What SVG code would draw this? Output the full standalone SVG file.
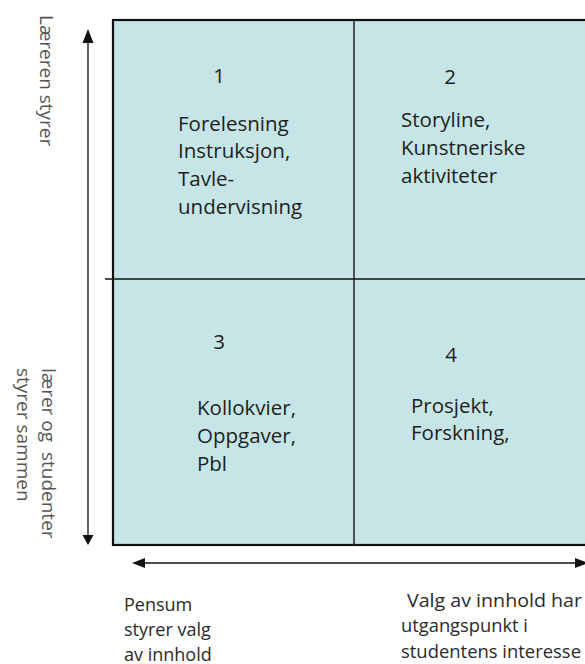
<svg xmlns="http://www.w3.org/2000/svg" width="585" height="664" viewBox="0 0 585 664">
  <style>
    .cell { fill: #c5e5e6; }
    .frame { fill: none; stroke: #111; stroke-width: 2.2; }
    .divider { stroke: #2a2f2f; stroke-width: 1.6; }
    .axis { stroke: #111; stroke-width: 1.3; fill: none; }
    .head { fill: #111; }
    .t { font-family: "Open Sans", "Noto Sans", sans-serif; fill: #1e1e1e; }
    .q { font-size: 20.5px; }
    .num { font-size: 20.5px; text-anchor: middle; }
    .lbl { font-size: 18.5px; fill: #2a2a2a; }
    .lbl-s { font-size: 18px; fill: #2a2a2a; }
    .side { font-size: 19px; fill: #555; white-space: pre; }
  </style>
  <rect width="585" height="664" fill="#ffffff"/>

  <!-- matrix background and frame -->
  <g id="matrix">
    <rect class="cell" x="113" y="20" width="480" height="525"/>
    <rect class="frame" x="113" y="20" width="480" height="525"/>
  </g>

  <!-- axes and quadrant dividers -->
  <g id="connectors">
    <line class="divider" x1="354" y1="20" x2="354" y2="545"/>
    <line class="divider" x1="105" y1="279" x2="590" y2="279" style="stroke:#111"/>
    <line class="axis" x1="88" y1="40" x2="88" y2="536"/>
    <polygon class="head" points="88,29 82.5,43 93.5,43"/>
    <polygon class="head" points="88,545 82.5,535 93.5,535"/>
    <line class="axis" x1="142" y1="563" x2="585" y2="563"/>
    <polygon class="head" points="132,563 145,558 145,568"/>
    <polygon class="head" points="588,563 575,558 575,568"/>
  </g>

  <g id="q1">
    <text class="t num" x="219" y="83">1</text>
    <text class="t q" x="178" y="131">Forelesning</text>
    <text class="t q" x="178" y="158">Instruksjon,</text>
    <text class="t q" x="178" y="186">Tavle-</text>
    <text class="t q" x="178" y="214">undervisning</text>
  </g>

  <g id="q2">
    <text class="t num" x="450" y="84">2</text>
    <text class="t q" x="401" y="127">Storyline,</text>
    <text class="t q" x="401" y="155">Kunstneriske</text>
    <text class="t q" x="401" y="183">aktiviteter</text>
  </g>

  <g id="q3">
    <text class="t num" x="219" y="349">3</text>
    <text class="t q" x="197" y="415">Kollokvier,</text>
    <text class="t q" x="197" y="443">Oppgaver,</text>
    <text class="t q" x="197" y="471">Pbl</text>
  </g>

  <g id="q4">
    <text class="t num" x="451" y="362">4</text>
    <text class="t q" x="411" y="413">Prosjekt,</text>
    <text class="t q" x="411" y="440">Forskning,</text>
  </g>

  <!-- vertical axis labels -->
  <g id="label-top">
    <text class="t side" transform="translate(40,15) rotate(90)">Læreren styrer</text>
  </g>
  <g id="label-bottom">
    <text class="t side" transform="translate(42,368) rotate(90)">lærer og  studenter</text>
    <text class="t side" transform="translate(17,368) rotate(90)">styrer sammen</text>
  </g>

  <!-- horizontal axis labels -->
  <g id="label-left">
    <text class="t lbl-s" x="124" y="611">Pensum</text>
    <text class="t lbl-s" x="124" y="636">styrer valg</text>
    <text class="t lbl-s" x="124" y="661">av innhold</text>
  </g>
  <g id="label-right">
    <text class="t lbl" x="407" y="607" textLength="175" lengthAdjust="spacingAndGlyphs">Valg av innhold har</text>
    <text class="t lbl" x="401" y="632" textLength="127" lengthAdjust="spacingAndGlyphs">utgangspunkt i</text>
    <text class="t lbl" x="401" y="658" textLength="180" lengthAdjust="spacingAndGlyphs">studentens interesse</text>
  </g>
</svg>
